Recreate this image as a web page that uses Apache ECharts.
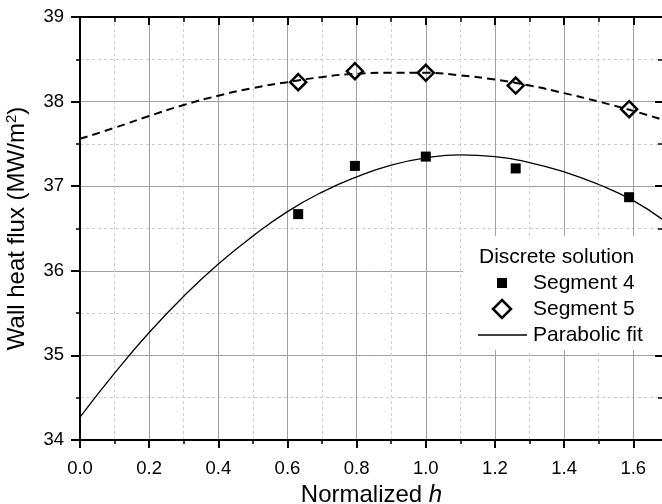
<!DOCTYPE html>
<html>
<head>
<meta charset="utf-8">
<script src="https://cdn.jsdelivr.net/npm/echarts@6/dist/echarts.min.js"></script>
<style>
html,body{margin:0;padding:0;background:#fff;}
#chart{width:662px;height:504px;}
</style>
</head>
<body>
<div id="chart"></div>
<script>
// ---- data ----
var seg4X = [0.631, 0.795, 1.0, 1.26, 1.588];
var seg4Y = [36.67, 37.24, 37.35, 37.21, 36.87];
var seg5X = [0.631, 0.795, 1.0, 1.26, 1.588];
var seg5Y = [38.23, 38.36, 38.34, 38.19, 37.91];
var fitX  = [0, 0.1, 0.2, 0.3, 0.4, 0.5, 0.6, 0.7, 0.8, 0.9, 1.0, 1.1, 1.2, 1.3, 1.4, 1.5, 1.6, 1.69];
var fit4Y = [34.27, 34.79, 35.27, 35.70, 36.08, 36.41, 36.70, 36.93, 37.11, 37.25, 37.335, 37.37, 37.35, 37.28, 37.17, 37.02, 36.83, 36.59];
var fit5Y = [37.56, 37.69, 37.83, 37.96, 38.07, 38.16, 38.23, 38.29, 38.33, 38.34, 38.34, 38.31, 38.26, 38.19, 38.10, 38.00, 37.89, 37.78];
var xTicks = ['0.0','0.2','0.4','0.6','0.8','1.0','1.2','1.4','1.6'];
var yTicks = ['34','35','36','37','38','39'];
var legendTitle = 'Discrete solution';
var legendNames = ['Segment 4', 'Segment 5', 'Parabolic fit'];

function zip(xs, ys){ return xs.map(function(x,i){ return [x, ys[i]]; }); }

var FONT = 'Liberation Sans, Arial, sans-serif';
var XMIN = 0, XMAX = 1.686, YMIN = 34, YMAX = 39;

function xLabel(v){
  var k = v / 0.2;
  if (Math.abs(k - Math.round(k)) > 1e-6) return '';
  var s = v.toFixed(1);
  return xTicks.indexOf(s) >= 0 ? s : '';
}
function yLabel(v){
  var s = String(Math.round(v));
  return (Math.abs(v - Math.round(v)) < 1e-6 && yTicks.indexOf(s) >= 0) ? s : '';
}

var majorGrid = {show: true, lineStyle: {color: '#a0a0a0', width: 1, type: 'solid'}};
var minorGrid = {show: true, lineStyle: {color: '#cccccc', width: 1, type: [3, 3]}};

var chart = echarts.init(document.getElementById('chart'), null, {renderer: 'canvas'});
var option = {
  backgroundColor: '#ffffff',
  animation: false,
  grid: {left: 80, right: -1, top: 17, bottom: 64, containLabel: false, outerBoundsMode: 'none'},
  xAxis: [
    { // minor (bottom)
      type: 'value', position: 'bottom', min: XMIN, max: XMAX, interval: 0.1,
      axisLine: {show: false}, axisLabel: {show: false},
      axisTick: {show: true, inside: false, length: 4, lineStyle: {color: '#000', width: 1.5}},
      splitLine: minorGrid
    },
    { // major (bottom)
      type: 'value', position: 'bottom', min: XMIN, max: XMAX, interval: 0.2,
      axisLine: {show: true, onZero: false, lineStyle: {color: '#000', width: 2}},
      axisTick: {show: true, inside: false, length: 8, lineStyle: {color: '#000', width: 2}},
      axisLabel: {show: true, formatter: xLabel, margin: 19, color: '#000', fontSize: 18.5, fontFamily: FONT, showMaxLabel: false},
      splitLine: majorGrid,
      name: 'Normalized {i|h}', nameLocation: 'middle', nameGap: 42,
      nameTextStyle: {color: '#000', fontSize: 24, fontFamily: FONT,
        rich: {i: {fontStyle: 'italic', fontSize: 24, fontFamily: FONT, color: '#000'}}}
    },
    { // minor (top)
      type: 'value', position: 'top', min: XMIN, max: XMAX, interval: 0.1,
      axisLine: {show: false}, axisLabel: {show: false},
      axisTick: {show: true, inside: true, length: 5, lineStyle: {color: '#000', width: 1.5}},
      splitLine: {show: false}
    },
    { // major (top)
      type: 'value', position: 'top', min: XMIN, max: XMAX, interval: 0.2,
      axisLine: {show: true, onZero: false, lineStyle: {color: '#000', width: 2}},
      axisTick: {show: true, inside: true, length: 8, lineStyle: {color: '#000', width: 2}},
      axisLabel: {show: false}, splitLine: {show: false}
    }
  ],
  yAxis: [
    {
      type: 'value', position: 'left', min: YMIN, max: YMAX, interval: 1,
      axisLine: {show: true, onZero: false, lineStyle: {color: '#000', width: 2}},
      axisTick: {show: true, inside: false, length: 9, lineStyle: {color: '#000', width: 2}},
      minorTick: {show: true, splitNumber: 2, length: 4, lineStyle: {color: '#000', width: 1.5}},
      axisLabel: {formatter: yLabel, margin: 16, color: '#000', fontSize: 18.5, fontFamily: FONT},
      splitLine: majorGrid,
      minorSplitLine: minorGrid,
      name: 'Wall heat flux (MW/m{sup|2})', nameLocation: 'middle', nameGap: 50, nameRotate: 90,
      nameTextStyle: {color: '#000', fontSize: 24, fontFamily: FONT,
        rich: {sup: {fontSize: 15, fontFamily: FONT, color: '#000', verticalAlign: 'top', lineHeight: 26}}}
    },
    {
      type: 'value', position: 'right', min: YMIN, max: YMAX, interval: 1,
      axisLine: {show: true, onZero: false, lineStyle: {color: '#000', width: 2}},
      axisTick: {show: true, inside: true, length: 8, lineStyle: {color: '#000', width: 2}},
      minorTick: {show: true, splitNumber: 2, length: 5, lineStyle: {color: '#000', width: 1.5}},
      axisLabel: {show: false}, splitLine: {show: false}
    }
  ],
  series: [
    {
      name: 'Parabolic fit', type: 'line', xAxisIndex: 1, yAxisIndex: 0,
      data: zip(fitX, fit4Y), smooth: 0.5, showSymbol: false, symbol: 'none', clip: true,
      lineStyle: {color: '#000', width: 1.3, type: 'solid'}, z: 3
    },
    {
      name: 'Segment 5 fit', type: 'line', xAxisIndex: 1, yAxisIndex: 0,
      data: zip(fitX, fit5Y), smooth: 0.5, showSymbol: false, symbol: 'none', clip: true,
      lineStyle: {color: '#000', width: 2, type: [8, 5]}, z: 3
    },
    {
      name: 'Segment 4', type: 'scatter', xAxisIndex: 1, yAxisIndex: 0,
      data: zip(seg4X, seg4Y), symbol: 'rect', symbolSize: 10,
      itemStyle: {color: '#000', opacity: 1}, z: 4
    },
    {
      name: 'Segment 5', type: 'scatter', xAxisIndex: 1, yAxisIndex: 0,
      data: zip(seg5X, seg5Y), symbol: 'diamond', symbolSize: 16,
      itemStyle: {color: 'rgba(0,0,0,0)', borderColor: '#000', borderWidth: 2.5, opacity: 1}, z: 4
    }
  ],
  graphic: [
    {type: 'rect', shape: {x: 463, y: 236, width: 200, height: 114}, style: {fill: '#fff'}, z: 50},
    {type: 'text', x: 479, y: 257, style: {text: legendTitle, fill: '#000', font: '21px ' + FONT, textVerticalAlign: 'middle'}, z: 51},
    {type: 'rect', shape: {x: 497, y: 278, width: 10, height: 10}, style: {fill: '#000'}, z: 51},
    {type: 'text', x: 533, y: 283, style: {text: legendNames[0], fill: '#000', font: '21px ' + FONT, textVerticalAlign: 'middle'}, z: 51},
    {type: 'polygon', shape: {points: [[502, 300], [511, 309], [502, 318], [493, 309]]}, style: {fill: 'none', stroke: '#000', lineWidth: 2.5}, z: 51},
    {type: 'text', x: 533, y: 309, style: {text: legendNames[1], fill: '#000', font: '21px ' + FONT, textVerticalAlign: 'middle'}, z: 51},
    {type: 'line', shape: {x1: 478, y1: 335, x2: 527, y2: 335}, style: {stroke: '#000', lineWidth: 1.3}, z: 51},
    {type: 'text', x: 533, y: 335, style: {text: legendNames[2], fill: '#000', font: '21px ' + FONT, textVerticalAlign: 'middle'}, z: 51}
  ]
};
chart.setOption(option);
</script>
</body>
</html>
